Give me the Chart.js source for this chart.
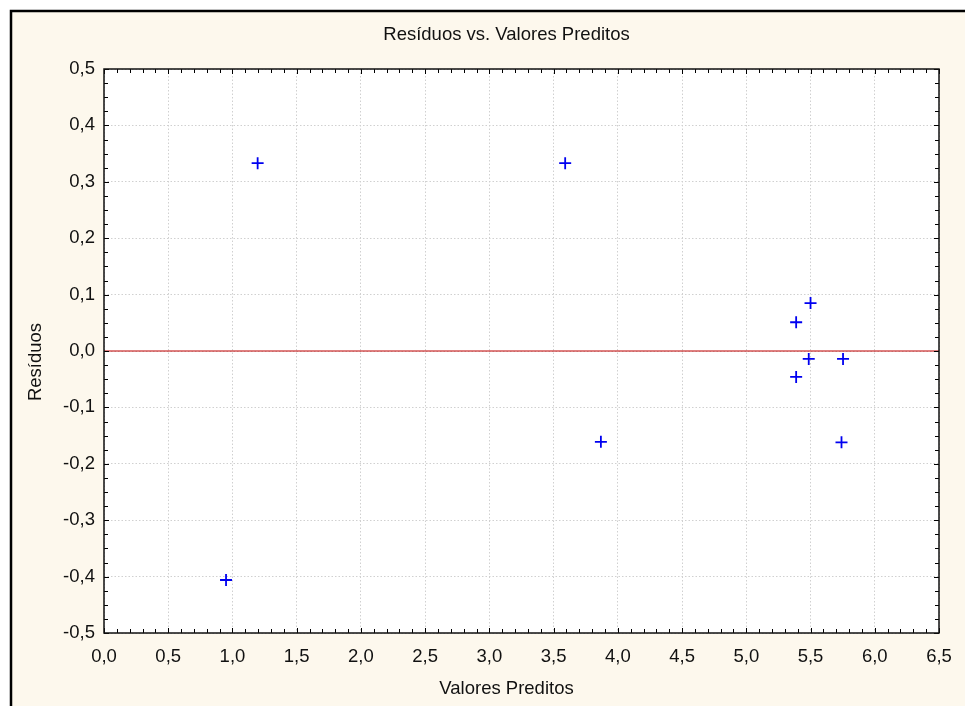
<!DOCTYPE html>
<html>
<head>
<meta charset="utf-8">
<title>Resíduos vs. Valores Preditos</title>
<script src="https://cdn.jsdelivr.net/npm/chart.js@4/dist/chart.umd.min.js"></script>
<style>
    html, body { margin: 0; padding: 0; background: #fff; }
    canvas { display: block; }
</style>
</head>
<body>
<canvas id="myChart" width="965" height="706"></canvas>
<script>
// predicted values (x) and residuals (y), one entry per observation
var predicted = [0.95, 1.196, 3.59, 3.868, 5.50, 5.388, 5.486, 5.753, 5.388, 5.741];
var residuals = [-0.406, 0.333, 0.333, -0.161, 0.085, 0.051, -0.014, -0.014, -0.046, -0.162];

var xTickValues = [0, 0.5, 1, 1.5, 2, 2.5, 3, 3.5, 4, 4.5, 5, 5.5, 6, 6.5];
var xTickLabels = ['0,0', '0,5', '1,0', '1,5', '2,0', '2,5', '3,0', '3,5', '4,0', '4,5', '5,0', '5,5', '6,0', '6,5'];
var yTickValues = [-0.5, -0.4, -0.3, -0.2, -0.1, 0, 0.1, 0.2, 0.3, 0.4, 0.5];
var yTickLabels = ['-0,5', '-0,4', '-0,3', '-0,2', '-0,1', '0,0', '0,1', '0,2', '0,3', '0,4', '0,5'];

var chartTitle = 'Resíduos vs. Valores Preditos';
var xTitle = 'Valores Preditos';
var yTitle = 'Resíduos';

var fontFamily = '"Liberation Sans", Arial, sans-serif';
var fontSize = 18.5;

var points = [];
for (let i = 0; i < predicted.length; i++) {
    points.push({ x: predicted[i], y: residuals[i] });
}

// cream panel with the black frame, white plot area, titles and inner tick marks
var panelPlugin = {
    id: 'panel',
    beforeDraw: function(chart) {
        var ctx = chart.ctx;
        var area = chart.chartArea;
        ctx.save();
        ctx.fillStyle = '#fff';
        ctx.fillRect(0, 0, chart.width, chart.height);
        ctx.fillStyle = '#fdf8ed';
        ctx.fillRect(11, 11, chart.width, chart.height);
        ctx.strokeStyle = '#000';
        ctx.lineWidth = 2.5;
        ctx.beginPath();
        ctx.moveTo(11, chart.height + 2);
        ctx.lineTo(11, 11);
        ctx.lineTo(chart.width + 2, 11);
        ctx.stroke();
        ctx.fillStyle = '#fff';
        ctx.fillRect(area.left, area.top, area.right - area.left, area.bottom - area.top);
        ctx.restore();
    },
    afterDraw: function(chart) {
        var ctx = chart.ctx;
        var area = chart.chartArea;
        var xs = chart.scales.x;
        var ys = chart.scales.y;
        ctx.save();

        // minor/major ticks pointing inward on all four sides
        ctx.strokeStyle = '#000';
        ctx.lineWidth = 1;
        ctx.beginPath();
        for (let k = 0; k <= 65; k++) {
            var px = Math.round(xs.getPixelForValue(k / 10)) + 0.5;
            var len = (k % 5 == 0) ? 5 : 4;
            ctx.moveTo(px, area.bottom);
            ctx.lineTo(px, area.bottom - len);
            ctx.moveTo(px, area.top);
            ctx.lineTo(px, area.top + len);
        }
        for (let k = -20; k <= 20; k++) {
            var py = Math.round(ys.getPixelForValue(k / 40)) + 0.5;
            var len2 = (k % 4 == 0) ? 5 : 4;
            ctx.moveTo(area.left, py);
            ctx.lineTo(area.left + len2, py);
            ctx.moveTo(area.right, py);
            ctx.lineTo(area.right - len2, py);
        }
        ctx.stroke();

        ctx.strokeStyle = '#111';
        ctx.lineWidth = 1.5;
        ctx.strokeRect(area.left, area.top, area.right - area.left, area.bottom - area.top);

        ctx.fillStyle = '#111';
        ctx.font = fontSize + 'px ' + fontFamily;
        ctx.textAlign = 'center';
        ctx.textBaseline = 'middle';
        ctx.fillText(chartTitle, 506.5, 35);
        ctx.fillText(xTitle, 506.5, 689);
        ctx.translate(36, 362);
        ctx.rotate(-Math.PI / 2);
        ctx.fillText(yTitle, 0, 0);
        ctx.restore();
    }
};

var ctx = document.getElementById('myChart').getContext('2d');
var myChart = new Chart(ctx, {
    type: 'scatter',
    data: {
        datasets: [{
            label: 'Resíduos',
            data: points,
            pointStyle: 'cross',
            pointRadius: 6,
            borderColor: '#0000f0',
            borderWidth: 1.8,
            showLine: false
        }, {
            // reference line at zero residual
            label: 'zero',
            type: 'line',
            data: [{ x: 0, y: 0 }, { x: 6.5, y: 0 }],
            borderColor: '#c00000',
            borderWidth: 1.2,
            pointRadius: 0
        }]
    },
    options: {
        responsive: false,
        animation: false,
        layout: { padding: { top: 69, right: 26, bottom: 0, left: 0 } },
        plugins: {
            legend: { display: false },
            tooltip: { enabled: false },
            title: { display: false }
        },
        scales: {
            x: {
                type: 'linear',
                min: 0,
                max: 6.5,
                afterBuildTicks: function(scale) {
                    scale.ticks = xTickValues.map(v => ({ value: v }));
                },
                afterFit: function(scale) { scale.height = 73; },
                ticks: {
                    padding: 13,
                    color: '#111',
                    font: { family: fontFamily, size: fontSize },
                    callback: function(value, index) { return xTickLabels[index]; }
                },
                grid: { color: '#d0d0d0', lineWidth: 1, drawTicks: false },
                border: { display: false, dash: [1.5, 2] }
            },
            y: {
                type: 'linear',
                min: -0.5,
                max: 0.5,
                afterBuildTicks: function(scale) {
                    scale.ticks = yTickValues.map(v => ({ value: v }));
                },
                afterFit: function(scale) { scale.width = 104; },
                ticks: {
                    padding: 9,
                    color: '#111',
                    font: { family: fontFamily, size: fontSize },
                    callback: function(value, index) { return yTickLabels[index]; }
                },
                grid: { color: '#d0d0d0', lineWidth: 1, drawTicks: false },
                border: { display: false, dash: [1.5, 2] }
            }
        }
    },
    plugins: [panelPlugin]
});
</script>
</body>
</html>
